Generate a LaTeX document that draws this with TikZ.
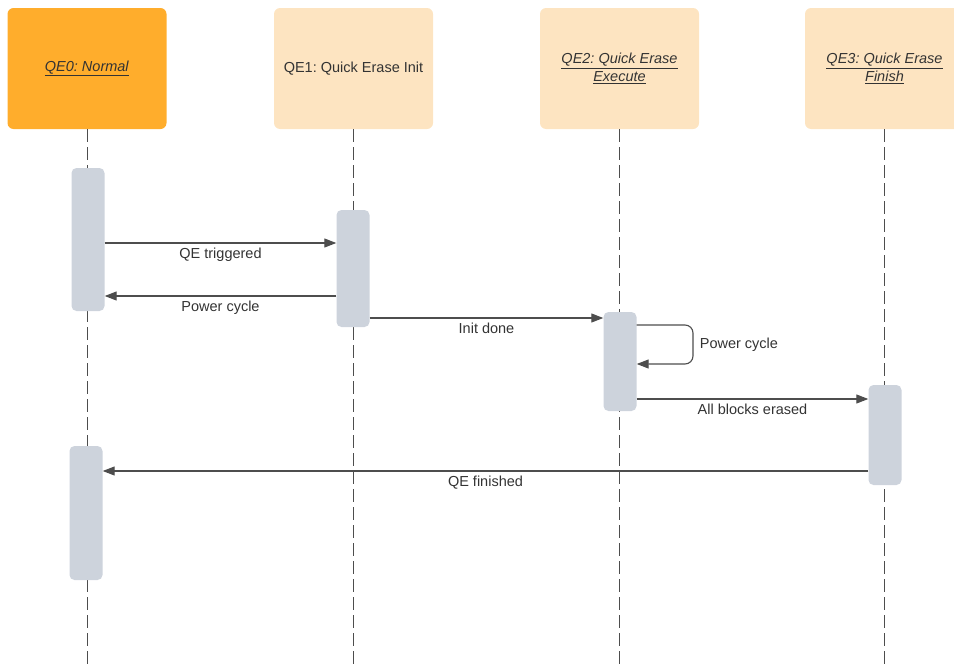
\documentclass[tikz,border=0pt]{standalone}
\usepackage{fontspec}
\setmainfont{Liberation Sans}
\frenchspacing
\usetikzlibrary{arrows.meta}
\definecolor{hdrdark}{HTML}{FFAD2C}
\definecolor{hdrlight}{HTML}{FDE4C1}
\definecolor{actgray}{HTML}{CDD3DC}
\definecolor{linegray}{HTML}{4D4D4D}
\definecolor{txtgray}{HTML}{333333}
\newcommand{\hdrul}[1]{\underline{\textit{#1}}}
\begin{document}
\begin{tikzpicture}[x=1pt,y=-1pt,line join=round,>={Triangle[length=12pt,width=9pt]}]
	\tikzset{every node/.style={font=\fontsize{14.5}{18}\selectfont,text=txtgray},
		hdr/.style={rounded corners=6pt,minimum width=159pt,minimum height=121pt,align=center,inner sep=0pt},
		act/.style={fill=actgray,rounded corners=5pt,minimum width=33pt,inner sep=0pt},
		life/.style={linegray,line width=1pt,dash pattern=on 13pt off 5pt},
		msg/.style={->,linegray,line width=1.1pt}}
	\useasboundingbox (0,0) rectangle (954,664);
	% headers
	\node[hdr,fill=hdrdark] (qe0) at (87,68.5) {\hdrul{QE0: Normal}};
	\node[hdr,fill=hdrlight] (qe1) at (353.5,68.5) {QE1: Quick Erase Init};
	\node[hdr,fill=hdrlight] (qe2) at (619.5,68.5) {\hdrul{QE2: Quick Erase}\\\hdrul{Execute}};
	\node[hdr,fill=hdrlight] (qe3) at (884.5,68.5) {\hdrul{QE3: Quick Erase}\\\hdrul{Finish}};
	% lifelines
	\foreach \n in {qe0,qe1,qe2,qe3}
	\draw[life] (\n.south) -- (\n.south |- 0,664);
	% activations
	\node[act,minimum height=143pt] (a0a) at (88,239.5) {};
	\node[act,minimum height=117pt] (a1) at (353,268.5) {};
	\node[act,minimum height=99pt] (a2) at (620,361.5) {};
	\node[act,minimum height=100pt] (a3) at (885,435) {};
	\node[act,minimum height=134pt] (a0b) at (86,513) {};
	% messages
	\draw[msg] (a0a.east |- 0,243) -- node[below=1pt] {QE triggered} (a1.west |- 0,243);
	\draw[msg] (a1.west |- 0,296) -- node[below=1pt] {Power cycle} (a0a.east |- 0,296);
	\draw[msg] (a1.east |- 0,318) -- node[below=1pt] {Init done} (a2.west |- 0,318);
	\draw[msg,rounded corners=8pt] (a2.east |- 0,325) -- (693,325) -- node[right=3pt] {Power cycle} (693,364) -- (a2.east |- 0,364);
	\draw[msg] (a2.east |- 0,399) -- node[below=1pt] {All blocks erased} (a3.west |- 0,399);
	\draw[msg] (a3.west |- 0,471) -- node[below=1pt] {QE finished} (a0b.east |- 0,471);
\end{tikzpicture}
\end{document}
